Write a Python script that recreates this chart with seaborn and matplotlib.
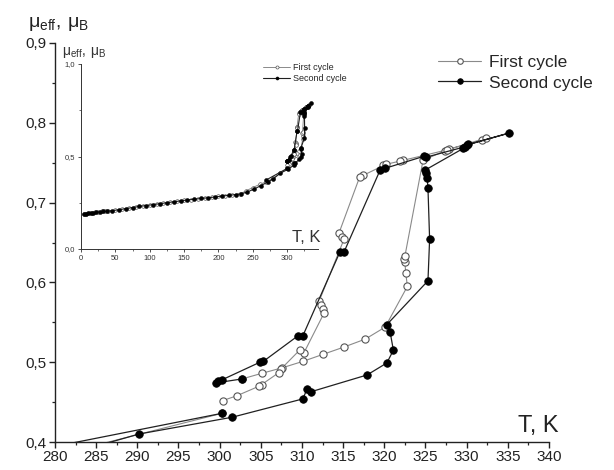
import numpy as np
import pandas as pd
import matplotlib
matplotlib.use("Agg")
import matplotlib.pyplot as plt
from matplotlib.lines import Line2D
from matplotlib.ticker import MultipleLocator, FuncFormatter
import seaborn as sns

# ---- data: effective moment (mu_B) vs temperature (K) ----
# first cycle, low-temperature heating branch
first_T_low = [5, 8, 12, 16, 20, 25, 30, 35, 40, 50, 60, 70, 80, 90, 100, 110, 120,
               130, 140, 150, 160, 170, 180, 190, 200, 210, 220, 232, 240, 250, 260,
               270, 280, 300.3]
first_mu_low = [0.189, 0.191, 0.194, 0.197, 0.199, 0.201, 0.203, 0.204, 0.205, 0.209,
                0.215, 0.221, 0.227, 0.232, 0.237, 0.243, 0.248, 0.253, 0.258, 0.263,
                0.267, 0.271, 0.275, 0.279, 0.284, 0.288, 0.292, 0.298, 0.314, 0.332,
                0.349, 0.364, 0.383, 0.436]
# first cycle, transition loop
first_T_loop = [302.7, 305.1, 307.6, 310.1, 312.6, 315.1, 317.7, 320.1, 322.8, 322.6,
                322.5, 322.4, 322.5, 324.7, 327.4, 327.8, 331.9, 332.4, 327.6, 322.3,
                321.9, 319.8, 320.2, 317.4, 317.0, 314.5, 314.8, 315.1, 312.1, 312.3,
                312.5, 312.7, 310.2, 309.7, 307.5, 307.2, 305.1, 304.8, 302.1, 300.4]
first_mu_loop = [0.479, 0.486, 0.493, 0.501, 0.510, 0.519, 0.529, 0.544, 0.595, 0.612,
                 0.625, 0.629, 0.633, 0.753, 0.765, 0.767, 0.778, 0.781, 0.766, 0.753,
                 0.752, 0.747, 0.748, 0.734, 0.732, 0.662, 0.657, 0.654, 0.577, 0.572,
                 0.567, 0.562, 0.511, 0.515, 0.492, 0.487, 0.472, 0.470, 0.458, 0.452]

# second cycle, heating from low temperature through the loop and back
second_T_low = [5, 7, 10, 14, 18, 22, 27, 32, 38, 45, 55, 65, 75, 85, 95, 105, 115,
                125, 135, 145, 155, 165, 175, 185, 195, 205, 215, 225, 233, 242, 252,
                262, 272, 280]
second_mu_low = [0.188, 0.190, 0.192, 0.195, 0.197, 0.199, 0.201, 0.203, 0.204, 0.207,
                 0.212, 0.218, 0.224, 0.230, 0.235, 0.240, 0.245, 0.250, 0.255, 0.260,
                 0.265, 0.269, 0.273, 0.277, 0.281, 0.286, 0.290, 0.294, 0.298, 0.308,
                 0.324, 0.343, 0.362, 0.380]
second_T_loop = [290.2, 301.5, 310.1, 310.6, 311.1, 317.9, 320.3, 321.1, 320.7, 320.3,
                 325.3, 325.5, 325.3, 325.2, 325.1, 325.0, 329.6, 330.0, 335.1, 330.2,
                 329.8, 325.1, 324.8, 320.1, 319.5, 315.1, 314.6, 310.1, 309.5, 305.3,
                 304.9, 300.3, 299.8, 299.5, 302.7]
second_mu_loop = [0.410, 0.431, 0.454, 0.466, 0.463, 0.484, 0.499, 0.515, 0.538, 0.547,
                  0.602, 0.654, 0.718, 0.731, 0.737, 0.741, 0.768, 0.772, 0.787, 0.773,
                  0.770, 0.757, 0.758, 0.743, 0.741, 0.638, 0.638, 0.533, 0.533, 0.501,
                  0.500, 0.478, 0.476, 0.474, 0.479]
# second cycle, short branch joining at 300 K
second_T_branch = [270, 300.3]
second_mu_branch = [0.374, 0.436]

series_labels = ["First cycle", "Second cycle"]

first = pd.DataFrame({
    "T": first_T_low + first_T_loop,
    "mu": first_mu_low + first_mu_loop,
    "seg": [0] * len(first_T_low) + [1] * len(first_T_loop),
})
second = pd.DataFrame({
    "T": second_T_low + second_T_loop + second_T_branch,
    "mu": second_mu_low + second_mu_loop + second_mu_branch,
    "seg": [0] * (len(second_T_low) + len(second_T_loop)) + [1] * len(second_T_branch),
})

sns.set_style("ticks")
plt.rcParams["font.family"] = ["Liberation Sans", "DejaVu Sans"]
plt.rcParams["mathtext.default"] = "regular"

fig = plt.figure(figsize=(6.14, 4.70), dpi=100)
W, H = 614, 470
ax = fig.add_axes([55 / W, 1 - 442 / H, 494 / W, 399 / H])

open_style = dict(color="#8a8a8a", lw=0.8, marker="o", markersize=5.2,
                  markerfacecolor="white", markeredgecolor="#555555", markeredgewidth=0.8)
fill_style = dict(color="#202020", lw=0.9, marker="o", markersize=5.4,
                  markerfacecolor="black", markeredgecolor="black", markeredgewidth=0.6)

sns.lineplot(data=first, x="T", y="mu", units="seg", estimator=None, sort=False,
             ax=ax, legend=False, **open_style)
sns.lineplot(data=second, x="T", y="mu", units="seg", estimator=None, sort=False,
             ax=ax, legend=False, **fill_style)

comma = FuncFormatter(lambda v, p: f"{v:.1f}".replace(".", ","))
ax.set_xlim(280, 340)
ax.set_ylim(0.4, 0.9)
ax.xaxis.set_major_locator(MultipleLocator(5))
ax.xaxis.set_minor_locator(MultipleLocator(2.5))
ax.yaxis.set_major_locator(MultipleLocator(0.1))
ax.yaxis.set_minor_locator(MultipleLocator(0.05))
ax.yaxis.set_major_formatter(comma)
ax.set_xlabel("")
ax.set_ylabel("")
for s in ("top", "right"):
    ax.spines[s].set_visible(False)
for s in ("left", "bottom"):
    ax.spines[s].set_linewidth(1.0)
    ax.spines[s].set_color("#222222")
ax.tick_params(which="major", direction="out", length=4, width=1.0,
               labelsize=11, colors="#222222", pad=2)
ax.tick_params(which="minor", direction="out", length=2.5, width=0.9, colors="#222222")
ax.patch.set_alpha(0)

fig.text(28 / W, 1 - 24 / H, r"$\mathregular{μ_{eff},\,μ_{B}}$", fontsize=14,
         va="center", ha="left", color="#222222")
fig.text(518 / W, 1 - 432 / H, "T, K", fontsize=17, va="baseline", ha="left",
         color="#222222")

handles = [
    Line2D([], [], **{**open_style, "markersize": 4.0}),
    Line2D([], [], **{**fill_style, "markersize": 4.0}),
]
fig.legend(handles, series_labels, loc="upper left",
           bbox_to_anchor=(438 / W, 1 - 55 / H), frameon=False, fontsize=12.5,
           handlelength=2.5, handletextpad=0.45, labelspacing=0.3,
           borderpad=0, borderaxespad=0)

# ---- inset: full temperature range ----
ins = fig.add_axes([81 / W, 1 - 249 / H, 237 / W, 185 / H])
ins.patch.set_alpha(0)
inset_open = dict(open_style, lw=0.7, markersize=2.6, markeredgewidth=0.5)
inset_fill = dict(fill_style, lw=0.8, markersize=2.8, markeredgewidth=0.4)
sns.lineplot(data=first, x="T", y="mu", units="seg", estimator=None, sort=False,
             ax=ins, legend=False, **inset_open)
sns.lineplot(data=second, x="T", y="mu", units="seg", estimator=None, sort=False,
             ax=ins, legend=False, **inset_fill)
ins.set_xlim(0, 345)
ins.set_ylim(0, 1.0)
ins.xaxis.set_major_locator(MultipleLocator(50))
ins.xaxis.set_minor_locator(MultipleLocator(25))
ins.yaxis.set_major_locator(MultipleLocator(0.5))
ins.yaxis.set_minor_locator(MultipleLocator(0.25))
ins.yaxis.set_major_formatter(comma)
ins.set_xlabel("")
ins.set_ylabel("")
for s in ("top", "right"):
    ins.spines[s].set_visible(False)
for s in ("left", "bottom"):
    ins.spines[s].set_linewidth(0.7)
    ins.spines[s].set_color("#333333")
ins.tick_params(which="major", direction="out", length=2.5, width=0.6,
                labelsize=5.5, colors="#333333", pad=1.5)
ins.tick_params(which="minor", direction="out", length=1.5, width=0.5, colors="#333333")

fig.text(62 / W, 1 - 53 / H, r"$\mathregular{μ_{eff},\,μ_{B}}$", fontsize=10,
         va="center", ha="left", color="#333333")
fig.text(292 / W, 1 - 242 / H, "T, K", fontsize=12, va="baseline", ha="left",
         color="#333333")
ins_handles = [
    Line2D([], [], **{**inset_open, "markersize": 2.2}),
    Line2D([], [], **{**inset_fill, "markersize": 2.2}),
]
fig.legend(ins_handles, series_labels, loc="upper left",
           bbox_to_anchor=(263 / W, 1 - 63 / H), frameon=False, fontsize=6.5,
           handlelength=3.0, handletextpad=0.3, labelspacing=0.25,
           borderpad=0, borderaxespad=0)

fig.savefig("out.png", dpi=100)
